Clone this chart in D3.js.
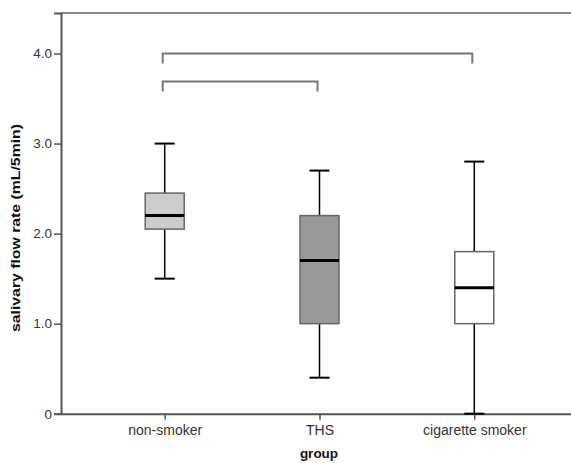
<!DOCTYPE html>
<html>
<head>
<meta charset="utf-8">
<script src="https://cdn.jsdelivr.net/npm/d3@7"></script>
<style>
  body { margin: 0; background: #fff; }
  svg { display: block; font-family: "Liberation Sans", Arial, sans-serif; }
</style>
</head>
<body>
<div id="chart"></div>
<script>
// box plot values
const groups = ["non-smoker", "THS", "cigarette smoker"]
const whiskerLow = [1.5, 0.4, 0.0]
const q1 = [2.05, 1.0, 1.0]
const median = [2.2, 1.7, 1.4]
const q3 = [2.45, 2.2, 1.8]
const whiskerHigh = [3.0, 2.7, 2.8]
const boxFill = ["#cccccc", "#999999", "#ffffff"]
const yTicks = [0, 1, 2, 3, 4]
// significance brackets
const bracketFrom = ["non-smoker", "non-smoker"]
const bracketTo = ["cigarette smoker", "THS"]
const bracketLevel = [4.0, 3.69]

const width = 571, height = 463
const plotLeft = 61, plotTop = 13, plotBottom = 413.7, plotRight = 578

const svg = d3.select("#chart").append("svg")
  .attr("width", width)
  .attr("height", height)

const y = d3.scaleLinear().domain([0, 4.45]).range([plotBottom, plotTop])
const x = d3.scalePoint().domain(groups).range([plotLeft, plotRight]).padding(0.67)

// top frame line
svg.append("line")
  .attr("x1", plotLeft).attr("x2", plotRight)
  .attr("y1", plotTop).attr("y2", plotTop)
  .attr("stroke", "#888").attr("stroke-width", 2)

const yAxis = svg.append("g")
  .attr("transform", "translate(" + plotLeft + ",0)")
  .call(d3.axisLeft(y).tickValues(yTicks).tickSize(7).tickPadding(2)
    .tickFormat(d => d === 0 ? "0" : d3.format(".1f")(d)))
yAxis.select(".domain").attr("stroke", "#555").attr("stroke-width", 2)
yAxis.selectAll(".tick line").attr("stroke", "#555").attr("stroke-width", 1.5)
yAxis.selectAll(".tick text").attr("fill", "#333").style("font-size", "13.5px")

const xAxis = svg.append("g")
  .attr("transform", "translate(0," + plotBottom + ")")
  .call(d3.axisBottom(x).tickSize(6).tickPadding(5).tickSizeOuter(0))
xAxis.select(".domain").attr("stroke", "#555").attr("stroke-width", 2)
xAxis.selectAll(".tick line").attr("stroke", "#555").attr("stroke-width", 1.5)
xAxis.selectAll(".tick text").attr("fill", "#333").style("font-size", "14px")

const boxW = 39, capW = 20
const boxes = svg.append("g").selectAll("g")
  .data(groups)
  .join("g")

// whiskers
boxes.append("line")
  .attr("x1", d => x(d)).attr("x2", d => x(d))
  .attr("y1", (d, i) => y(whiskerLow[i])).attr("y2", (d, i) => y(q1[i]))
  .attr("stroke", "#000").attr("stroke-width", 1.5)
boxes.append("line")
  .attr("x1", d => x(d)).attr("x2", d => x(d))
  .attr("y1", (d, i) => y(q3[i])).attr("y2", (d, i) => y(whiskerHigh[i]))
  .attr("stroke", "#000").attr("stroke-width", 1.5)
boxes.append("line")
  .attr("x1", d => x(d) - capW / 2).attr("x2", d => x(d) + capW / 2)
  .attr("y1", (d, i) => y(whiskerLow[i])).attr("y2", (d, i) => y(whiskerLow[i]))
  .attr("stroke", "#000").attr("stroke-width", 2)
boxes.append("line")
  .attr("x1", d => x(d) - capW / 2).attr("x2", d => x(d) + capW / 2)
  .attr("y1", (d, i) => y(whiskerHigh[i])).attr("y2", (d, i) => y(whiskerHigh[i]))
  .attr("stroke", "#000").attr("stroke-width", 2)

// boxes
boxes.append("rect")
  .attr("x", d => x(d) - boxW / 2)
  .attr("width", boxW)
  .attr("y", (d, i) => y(q3[i]))
  .attr("height", (d, i) => y(q1[i]) - y(q3[i]))
  .attr("fill", (d, i) => boxFill[i])
  .attr("stroke", "#666").attr("stroke-width", 1.5)

boxes.append("line")
  .attr("x1", d => x(d) - boxW / 2).attr("x2", d => x(d) + boxW / 2)
  .attr("y1", (d, i) => y(median[i])).attr("y2", (d, i) => y(median[i]))
  .attr("stroke", "#000").attr("stroke-width", 3)

// brackets
const drop = 10
svg.append("g").selectAll("path")
  .data(bracketLevel)
  .join("path")
  .attr("d", (lv, i) => {
    const x1 = x(bracketFrom[i]) - 2, x2 = x(bracketTo[i]) - 2, yy = y(lv)
    return "M" + x1 + "," + (yy + drop) + "V" + yy + "H" + x2 + "V" + (yy + drop)
  })
  .attr("fill", "none").attr("stroke", "#777").attr("stroke-width", 2)

// axis titles
svg.append("text")
  .attr("transform", "translate(20,228) rotate(-90)")
  .attr("text-anchor", "middle")
  .attr("textLength", 208).attr("lengthAdjust", "spacingAndGlyphs")
  .style("font-size", "13px").style("font-weight", "bold").attr("fill", "#111")
  .text("salivary flow rate (mL/5min)")

svg.append("text")
  .attr("x", 319).attr("y", 458)
  .attr("text-anchor", "middle")
  .style("font-size", "13.5px").style("font-weight", "bold").attr("fill", "#111")
  .text("group")
</script>
</body>
</html>
